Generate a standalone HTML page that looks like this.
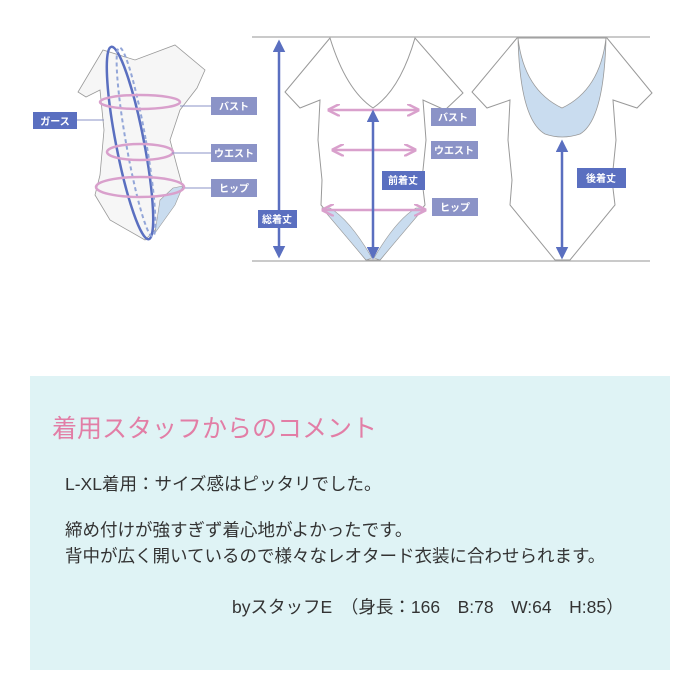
<!DOCTYPE html>
<html><head><meta charset="utf-8"><style>
body{margin:0;width:700px;height:700px;background:#fff;position:relative;overflow:hidden;font-family:"Liberation Sans","Noto Sans CJK JP",sans-serif;}
.panel{position:absolute;left:30px;top:376px;width:640px;height:294px;background:#dff3f5;}
.t{position:absolute;white-space:nowrap;color:#333;font-size:17.5px;line-height:22px;}
</style></head><body>
<svg width="700" height="370" style="position:absolute;left:0;top:0" font-family="Liberation Sans, Noto Sans CJK JP, sans-serif">
<defs>
<marker id="ab" viewBox="0 0 10 10" refX="8" refY="5" markerWidth="5" markerHeight="5" orient="auto-start-reverse"><path d="M0,0L10,5L0,10z" fill="#5a6fc0"/></marker>
<marker id="ap" viewBox="0 0 10 10" refX="8" refY="5" markerWidth="5" markerHeight="5" orient="auto-start-reverse"><path d="M0,0L10,5L0,10" fill="none" stroke="#d9a0cc" stroke-width="2"/></marker>
</defs>
<path d="M103,50 L78,92 L86,97 L100,90 L104,130 L100,175 L95,195 L110,220 L145,240 L155,230 L170,200 L183,188 L178,170 L170,140 L180,110 L197,88 L205,70 L175,45 L135,60 Z" fill="#f6f6f6" stroke="#999" stroke-width="0.8"/>
<path d="M155,233 L160,200 L173,188 L183,186 L175,205 Z" fill="#c9dcef" stroke="#999" stroke-width="0.6"/>
<ellipse cx="130" cy="143" rx="14" ry="98" transform="rotate(-11 130 143)" fill="none" stroke="#5a6fc0" stroke-width="2.5"/>
<ellipse cx="136" cy="142" rx="10" ry="96" transform="rotate(-10 136 142)" fill="none" stroke="#93a6d8" stroke-width="2" stroke-dasharray="4 3"/>
<ellipse cx="140" cy="102" rx="40" ry="7" fill="none" stroke="#d9a0cc" stroke-width="2.5"/>
<ellipse cx="140" cy="152" rx="33" ry="8" fill="none" stroke="#d9a0cc" stroke-width="2.5"/>
<ellipse cx="140" cy="187" rx="44" ry="10" fill="none" stroke="#d9a0cc" stroke-width="2.5"/>
<line x1="77" y1="120" x2="104" y2="120" stroke="#8b93c7" stroke-width="1"/>
<line x1="180" y1="106" x2="211" y2="106" stroke="#8b93c7" stroke-width="1"/>
<line x1="172" y1="153" x2="211" y2="153" stroke="#8b93c7" stroke-width="1"/>
<line x1="185" y1="188" x2="211" y2="188" stroke="#8b93c7" stroke-width="1"/>
<rect x="33" y="112" width="44" height="17" fill="#5a6fc0"/><text x="55" y="125" fill="#fff" font-size="10" font-weight="bold" text-anchor="middle">ガース</text>
<rect x="211" y="97" width="46" height="18" fill="#8b93c7"/><text x="234" y="110" fill="#fff" font-size="10" font-weight="bold" text-anchor="middle">バスト</text>
<rect x="211" y="144" width="46" height="18" fill="#8b93c7"/><text x="234" y="157" fill="#fff" font-size="10" font-weight="bold" text-anchor="middle">ウエスト</text>
<rect x="211" y="179" width="46" height="18" fill="#8b93c7"/><text x="234" y="192" fill="#fff" font-size="10" font-weight="bold" text-anchor="middle">ヒップ</text>
<line x1="252" y1="37" x2="650" y2="37" stroke="#aaa" stroke-width="1.2"/>
<line x1="252" y1="261" x2="650" y2="261" stroke="#aaa" stroke-width="1.2"/>
<line x1="279" y1="42" x2="279" y2="256" stroke="#5a6fc0" stroke-width="2.5" marker-start="url(#ab)" marker-end="url(#ab)"/>
<rect x="258" y="210" width="39" height="18" fill="#5a6fc0"/><text x="277" y="223" fill="#fff" font-size="10" font-weight="bold" text-anchor="middle">総着丈</text>
<path d="M330,38 L285,92 L300,108 L320,100 L318,140 L322,180 L321,205 L366,260 L380,260 L425,205 L422,180 L426,140 L423,100 L445,110 L463,93 L415,38 Q400,90 373,108 Q346,90 330,38 Z" fill="#fff" stroke="#999" stroke-width="1"/>
<path d="M322,208 L366,260 L372,258 Q350,220 330,208 Z" fill="#c9dcef" stroke="#999" stroke-width="0.6"/>
<path d="M424,208 L380,260 L374,258 Q396,220 416,208 Z" fill="#c9dcef" stroke="#999" stroke-width="0.6"/>
<line x1="330" y1="110" x2="417" y2="110" stroke="#d9a0cc" stroke-width="2.5" marker-start="url(#ap)" marker-end="url(#ap)"/>
<line x1="334" y1="150" x2="414" y2="150" stroke="#d9a0cc" stroke-width="2.5" marker-start="url(#ap)" marker-end="url(#ap)"/>
<line x1="324" y1="210" x2="424" y2="210" stroke="#d9a0cc" stroke-width="2.5" marker-start="url(#ap)" marker-end="url(#ap)"/>
<line x1="373" y1="112" x2="373" y2="257" stroke="#5a6fc0" stroke-width="2.5" marker-start="url(#ab)" marker-end="url(#ab)"/>
<rect x="382" y="171" width="43" height="19" fill="#5a6fc0"/><text x="403" y="184" fill="#fff" font-size="10" font-weight="bold" text-anchor="middle">前着丈</text>
<rect x="431" y="108" width="45" height="18" fill="#8b93c7"/><text x="453" y="121" fill="#fff" font-size="10" font-weight="bold" text-anchor="middle">バスト</text>
<rect x="431" y="141" width="47" height="18" fill="#8b93c7"/><text x="454" y="154" fill="#fff" font-size="10" font-weight="bold" text-anchor="middle">ウエスト</text>
<rect x="432" y="198" width="46" height="18" fill="#8b93c7"/><text x="455" y="211" fill="#fff" font-size="10" font-weight="bold" text-anchor="middle">ヒップ</text>
<path d="M517,38 L472,92 L487,108 L510,100 L508,140 L512,180 L510,205 L555,260 L570,260 L615,205 L612,180 L616,140 L613,100 L637,108 L652,93 L607,38 Z" fill="#fff" stroke="#999" stroke-width="1"/>
<path d="M518,38 Q520,120 545,134 Q562,140 580,134 Q604,120 606,38 Q600,90 562,108 Q524,90 518,38 Z" fill="#c9dcef" stroke="#999" stroke-width="0.8"/>
<line x1="562" y1="142" x2="562" y2="257" stroke="#5a6fc0" stroke-width="2.5" marker-start="url(#ab)" marker-end="url(#ab)"/>
<rect x="577" y="168" width="49" height="20" fill="#5a6fc0"/><text x="601" y="182" fill="#fff" font-size="10" font-weight="bold" text-anchor="middle">後着丈</text>
</svg>
<div class="panel"></div>
<div class="t" style="left:52px;top:414px;font-size:25px;line-height:30px;color:#e27ea6;">着用スタッフからのコメント</div>
<div class="t" style="left:65px;top:473px;">L-XL着用：サイズ感はピッタリでした。</div>
<div class="t" style="left:65px;top:519px;">締め付けが強すぎず着心地がよかったです。</div>
<div class="t" style="left:65px;top:545px;">背中が広く開いているので様々なレオタード衣装に合わせられます。</div>
<div class="t" style="left:232px;top:596px;">byスタッフE　（身長：166　B:78　W:64　H:85）</div>
</body></html>
